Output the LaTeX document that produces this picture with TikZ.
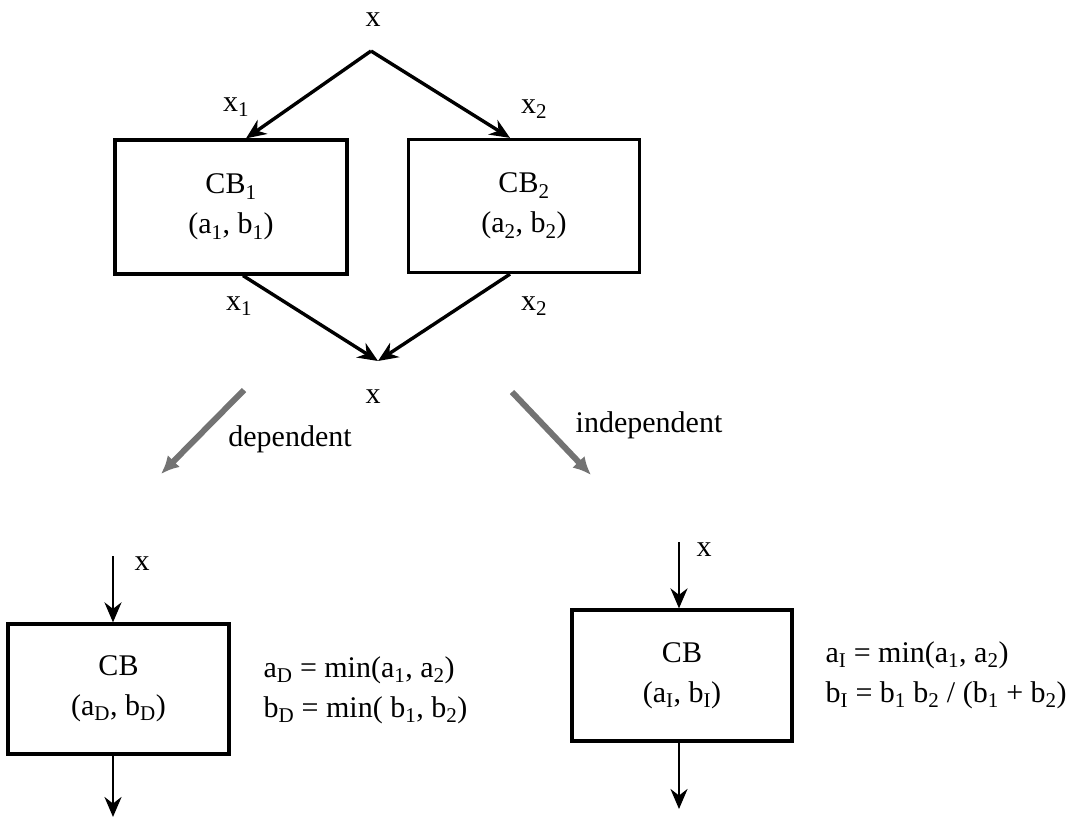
\documentclass[tikz,border=0pt]{standalone}
\usepackage{fontspec}
\setmainfont{Liberation Serif}
\usetikzlibrary{arrows.meta,positioning}
\newcommand{\lo}[1]{\textsubscript{#1}}
\begin{document}
\begin{tikzpicture}[x=1pt,y=-1pt,>={Stealth[length=20pt,width=17pt]},font=\fontsize{30}{40}\selectfont,
	cbox/.style={draw,line width=3.2pt,align=center,inner sep=0pt},
	flow/.style={->,line width=3.4pt},
	wire/.style={->,line width=2.8pt},
	way/.style={-{Latex[length=18pt,width=17pt]},line width=6pt,draw=black!55}]
	\useasboundingbox (0,0) rectangle (1086,821);
	% parallel blocks
	\node (xin) at (373,20) {x};
	\coordinate (split) at (371,51);
	\node[cbox,minimum width=232pt,minimum height=134pt] (cb1) at (231,207) {CB\lo{1}\\(a\lo{1}, b\lo{1})};
	\node[cbox,minimum width=231pt,minimum height=133pt] (cb2) at (524,206) {CB\lo{2}\\(a\lo{2}, b\lo{2})};
	\draw[flow] (split)--([xshift=15pt]cb1.north);
	\draw[flow] (split)--([xshift=-14pt]cb2.north);
	\node (x1a) at (236,107) {x\lo{1}};
	\node (x2a) at (534,109) {x\lo{2}};
	\coordinate (merge) at (378,361);
	\draw[flow] ([xshift=12pt]cb1.south)--(merge);
	\draw[flow] ([xshift=-14pt]cb2.south)--(merge);
	\node (x1b) at (239,306) {x\lo{1}};
	\node (x2b) at (534,306) {x\lo{2}};
	\node (xout) at (373,397) {x};
	% the two cases
	\coordinate (d0) at (244,390); \coordinate (d1) at (161,474);
	\coordinate (i0) at (512,392); \coordinate (i1) at (591,475);
	\draw[way] (d0)--(d1);
	\draw[way] (i0)--(i1);
	\node (dep) at (290,439) {dependent};
	\node (indep) at (649,425) {independent};
	% dependent
	\node[cbox,minimum width=221pt,minimum height=130pt] (cbd) at (118.5,689) {CB\\(a\lo{D}, b\lo{D})};
	\coordinate (dtop) at (113,556); \coordinate (dbot) at (113,817);
	\draw[wire] (dtop)--(dtop|-cbd.north);
	\draw[wire] (dbot|-cbd.south)--(dbot);
	\node (xd) at (142,564) {x};
	\node[anchor=west,align=left] (fd) at (260,690) {a\lo{D} = min(a\lo{1}, a\lo{2})\\b\lo{D} = min( b\lo{1}, b\lo{2})};
	% independent
	\node[cbox,minimum width=220pt,minimum height=131pt] (cbi) at (682,675.5) {CB\\(a\lo{I}, b\lo{I})};
	\coordinate (itop) at (679,542); \coordinate (ibot) at (679,809);
	\draw[wire] (itop)--(itop|-cbi.north);
	\draw[wire] (ibot|-cbi.south)--(ibot);
	\node (xi) at (704,550) {x};
	\node[anchor=west,align=left] (fi) at (822,675) {a\lo{I} = min(a\lo{1}, a\lo{2})\\b\lo{I} = b\lo{1} b\lo{2} / (b\lo{1} + b\lo{2})};
\end{tikzpicture}
\end{document}
